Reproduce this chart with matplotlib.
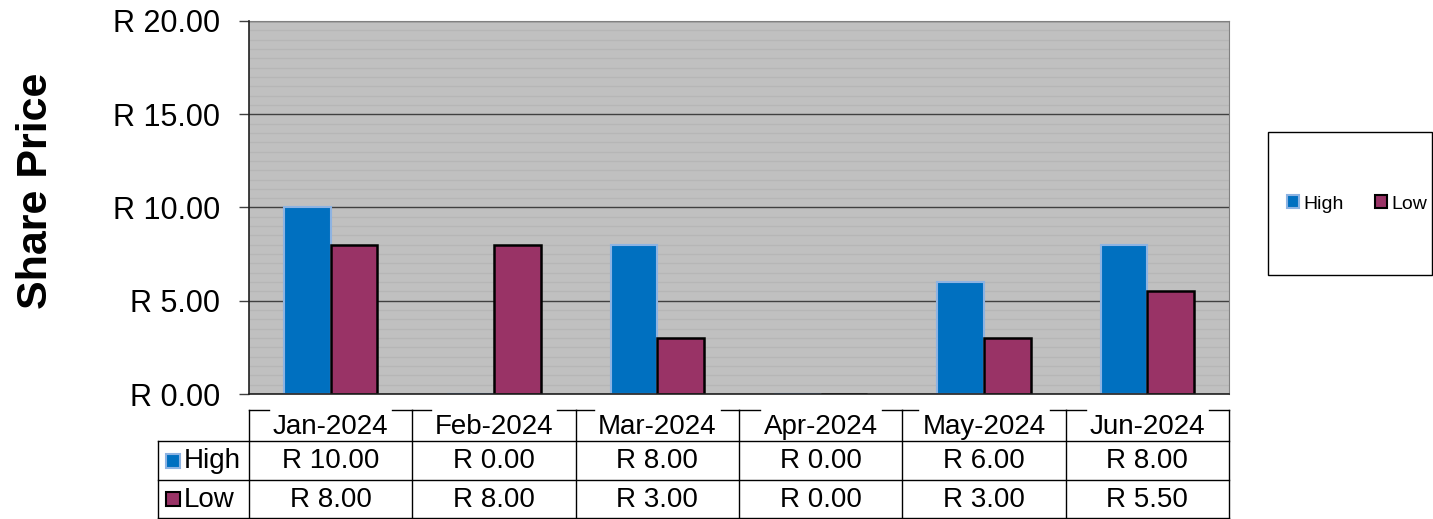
"""Share price bar chart with data table
"""
import numpy as np
import matplotlib.pyplot as plt
from matplotlib.patches import Patch, Rectangle
from matplotlib.transforms import blended_transform_factory

plt.rcParams['font.family'] = ['Liberation Sans', 'DejaVu Sans']

# data
months = ['Jan-2024', 'Feb-2024', 'Mar-2024', 'Apr-2024', 'May-2024', 'Jun-2024']
high = [10.0, 0.0, 8.0, 0.0, 6.0, 8.0]
low = [8.0, 8.0, 3.0, 0.0, 3.0, 5.5]
series = ['High', 'Low']
y_ticks = [0, 5, 10, 15, 20]

HIGH_C = '#0070C0'
HIGH_E = '#8DB3E2'
LOW_C = '#993366'
LOW_E = '#000000'

W, H = 1433, 519
fig = plt.figure(figsize=(W / 100, H / 100), dpi=100)
ax = fig.add_axes([249 / W, 1 - 394 / H, (1229 - 249) / W, (394 - 21) / H])

x = np.arange(len(months))
bw = 0.285
ax.bar(x - bw / 2, high, bw, color=HIGH_C, edgecolor=HIGH_E, linewidth=1.5, zorder=3)
ax.bar(x + bw / 2, low, bw, color=LOW_C, edgecolor=LOW_E, linewidth=1.8, zorder=3)

ax.set_xlim(-0.5, len(months) - 0.5)
ax.set_ylim(0, 20)
ax.set_facecolor('#C0C0C0')
ax.set_yticks(y_ticks)
ax.set_yticklabels([f'R {v:.2f}' for v in y_ticks], fontsize=22)
ax.set_yticks(np.arange(0, 20.01, 0.5), minor=True)
ax.tick_params(axis='y', which='major', length=7, pad=14, width=1, color='#404040')
ax.tick_params(axis='y', which='minor', length=0)
ax.set_xticks([])
ax.grid(axis='y', which='minor', color='#B6B6B6', linewidth=1, zorder=1)
ax.grid(axis='y', which='major', color='#404040', linewidth=1, zorder=2)
for s in ['top', 'right']:
	ax.spines[s].set_color('#808080')
for s in ['left', 'bottom']:
	ax.spines[s].set_color('#202020')
	ax.spines[s].set_linewidth(1.2)
	ax.spines[s].set_zorder(4)

fig.text(36 / W, 1 - 191 / H, 'Share Price', rotation=90, ha='center', va='center',
	fontsize=31, fontweight='bold')

# overlay in pixel coords for the table and legend box
tax = fig.add_axes([0, 0, 1, 1])
tax.set_xlim(0, W)
tax.set_ylim(H, 0)
tax.axis('off')
bt = blended_transform_factory(ax.transData, tax.transData)

label_left = -0.5 - 91 / 163.33
row_y = [410, 441, 480, 518]
bounds = np.arange(len(months) + 1) - 0.5

# horizontal lines for data rows
for yy in row_y[1:]:
	tax.plot([label_left, bounds[-1]], [yy, yy], color='black', lw=1, transform=bt, clip_on=False)
# vertical lines
for b in bounds:
	tax.plot([b, b], [row_y[0], row_y[-1]], color='black', lw=1, transform=bt, clip_on=False)
tax.plot([label_left, label_left], [row_y[1], row_y[-1]], color='black', lw=1, transform=bt, clip_on=False)

# header text
head_texts = []
for i, m in enumerate(months):
	t = tax.text(i, (row_y[0] + row_y[1]) / 2 + 1, m, ha='center', va='center', fontsize=20, transform=bt)
	head_texts.append(t)

# values
for r, vals in enumerate([high, low]):
	yc = (row_y[r + 1] + row_y[r + 2]) / 2 + 1
	for i, v in enumerate(vals):
		tax.text(i, yc, f'R {v:.2f}', ha='center', va='center', fontsize=20, transform=bt)

# row labels with key squares
for r, (name, fc, ec) in enumerate(zip(series, [HIGH_C, LOW_C], [HIGH_E, LOW_E])):
	yc = (row_y[r + 1] + row_y[r + 2]) / 2
	tax.add_patch(Rectangle((166, yc - 7), 14, 14, facecolor=fc, edgecolor=ec, lw=1.5))
	tax.text(184, yc + 1, name, ha='left', va='center', fontsize=20)

# header top border, broken where the text sits
fig.canvas.draw()
inv = tax.transData.inverted()
renderer = fig.canvas.get_renderer()
for i, t in enumerate(head_texts):
	bb = t.get_window_extent(renderer)
	x0 = inv.transform((bb.x0, 0))[0] - 4
	x1 = inv.transform((bb.x1, 0))[0] + 4
	left = ax.transData.transform((bounds[i], 0))[0]
	right = ax.transData.transform((bounds[i + 1], 0))[0]
	tax.plot([left, x0], [row_y[0], row_y[0]], color='black', lw=1, clip_on=False)
	tax.plot([x1, right], [row_y[0], row_y[0]], color='black', lw=1, clip_on=False)

# legend box
tax.add_patch(Rectangle((1268, 132), 1432 - 1268, 275 - 132, facecolor='white', edgecolor='black', lw=1))
handles = [Patch(facecolor=HIGH_C, edgecolor=HIGH_E, lw=1.5), Patch(facecolor=LOW_C, edgecolor=LOW_E, lw=1.5)]
leg = fig.legend(handles, series, loc='center', bbox_to_anchor=(1357 / W, 1 - 204 / H), ncol=2,
	frameon=False, fontsize=14, handlelength=0.65, handleheight=0.65, handletextpad=0.2, columnspacing=1.6)

fig.savefig('out.png', dpi=100)
